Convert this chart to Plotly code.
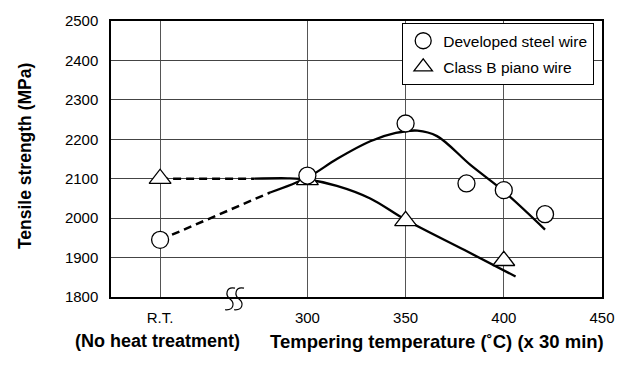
import plotly.graph_objects as go

# ---- data ----
x_tick_vals = [225, 300, 350, 400, 450]
x_tick_text = ["R.T.", "300", "350", "400", "450"]

dev_x = [225, 300, 350, 381, 400, 421]
dev_y = [1945, 2108, 2240, 2088, 2071, 2010]

pno_x = [225, 300, 350, 400]
pno_y = [2100, 2097, 1993, 1892]

dev_dash_x = [225, 281]
dev_dash_y = [1945, 2065]
dev_fit_x = [281, 300, 315, 332, 345, 356, 366, 383, 400, 421]
dev_fit_y = [2065, 2103, 2150, 2195, 2216, 2222, 2208, 2135, 2068, 1971]

pno_dash_x = [225, 273]
pno_dash_y = [2100, 2100]
pno_fit_x = [273, 290, 300, 315, 332, 350, 380, 406]
pno_fit_y = [2100, 2101, 2098, 2082, 2050, 1996, 1919, 1852]

FONT = "Liberation Sans, Arial, sans-serif"

fig = go.Figure()

fig.add_trace(go.Scatter(x=dev_dash_x, y=dev_dash_y, mode="lines",
                         line=dict(color="black", width=2.5, dash="8px,5px"), showlegend=False))
fig.add_trace(go.Scatter(x=pno_dash_x, y=pno_dash_y, mode="lines",
                         line=dict(color="black", width=2.5, dash="8px,5px"), showlegend=False))
fig.add_trace(go.Scatter(x=dev_fit_x, y=dev_fit_y, mode="lines", line_shape="spline",
                         line=dict(color="black", width=2.3), showlegend=False))
fig.add_trace(go.Scatter(x=pno_fit_x, y=pno_fit_y, mode="lines", line_shape="spline",
                         line=dict(color="black", width=2.3), showlegend=False))

fig.add_trace(go.Scatter(x=pno_x, y=pno_y, mode="markers", name="Class B piano wire",
                         legendgroup="b", legendrank=2,
                         marker=dict(symbol="triangle-up", size=19, color="white",
                                     line=dict(color="black", width=1.3))))
fig.add_trace(go.Scatter(x=dev_x, y=dev_y, mode="markers", name="Developed steel wire",
                         legendgroup="a", legendrank=1,
                         marker=dict(symbol="circle", size=17, color="white",
                                     line=dict(color="black", width=1.3))))

W, H = 630, 365
L, R, T, B = 111, 28, 15, 68
pw, ph = W - L - R, H - T - B


def px(x):
    return (x - L) / pw


def py(y):
    return (H - B - y) / ph


def spath(x0):
    pts = [(x0 + 10, 288), (x0 + 1, 286), (x0, 295), (x0 + 5, 299),
           (x0 + 10, 303), (x0 + 9, 311), (x0, 310)]
    p = [f"{px(a):.5f},{py(b):.5f}" for a, b in pts]
    return f"M {p[0]} C {p[1]} {p[2]} {p[3]} C {p[4]} {p[5]} {p[6]}"


shapes = [
    dict(type="path", xref="paper", yref="paper", path=spath(225),
         line=dict(color="black", width=1.2)),
    dict(type="path", xref="paper", yref="paper", path=spath(234),
         line=dict(color="black", width=1.2)),
]

fig.update_layout(
    width=W, height=H,
    margin=dict(l=L, r=R, t=T, b=B),
    paper_bgcolor="white", plot_bgcolor="white",
    font=dict(family=FONT, size=15, color="black"),
    showlegend=True,
    legend=dict(x=px(402), y=py(17), xanchor="left", yanchor="top",
                bgcolor="white", bordercolor="black", borderwidth=1.2,
                font=dict(size=15.5), traceorder="grouped",
                itemwidth=30, tracegroupgap=3),
    xaxis=dict(range=[200, 450], tickvals=x_tick_vals, ticktext=x_tick_text,
               showgrid=True, gridcolor="#555555", gridwidth=1,
               showline=True, linecolor="black", linewidth=1.5, mirror=True,
               ticks="outside", ticklen=6, tickcolor="rgba(0,0,0,0)",
               zeroline=False, tickfont=dict(size=15)),
    yaxis=dict(range=[1800, 2500], dtick=100, tick0=1800,
               showgrid=True, gridcolor="#444444", gridwidth=1,
               showline=True, linecolor="black", linewidth=1.5, mirror=True,
               ticks="outside", ticklen=8, tickcolor="rgba(0,0,0,0)",
               zeroline=False, tickfont=dict(size=15)),
    shapes=shapes,
    annotations=[
        dict(text="<b>Tensile strength (MPa)</b>", xref="paper", yref="paper",
             x=px(25), y=py(153), textangle=-90, showarrow=False,
             font=dict(size=17.5), xanchor="center", yanchor="middle"),
        dict(text="<b>(No heat treatment)</b>", xref="paper", yref="paper",
             x=px(157), y=py(342), showarrow=False, font=dict(size=18),
             xanchor="center", yanchor="middle"),
        dict(text="<b>Tempering temperature (˚C) (x 30 min)</b>", xref="paper", yref="paper",
             x=px(437), y=py(342), showarrow=False, font=dict(size=18.5),
             xanchor="center", yanchor="middle"),
    ],
)

fig.write_html("out.html")
